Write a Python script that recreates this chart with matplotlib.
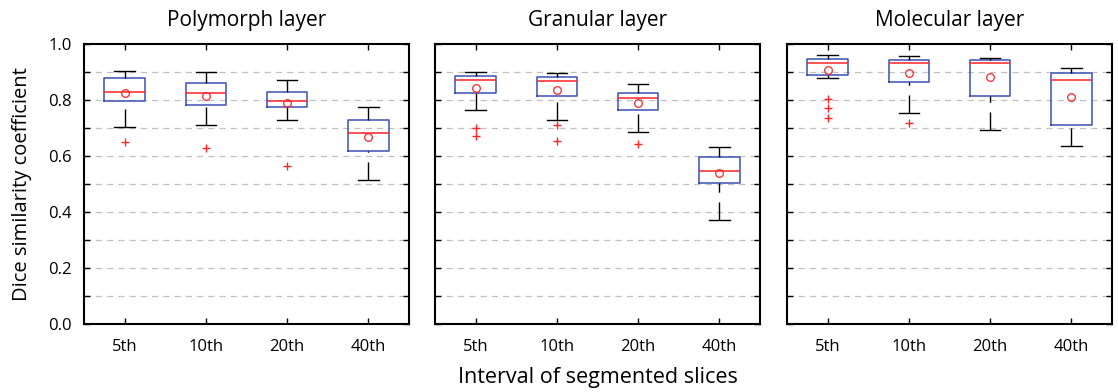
import numpy as np
import matplotlib.pyplot as plt

plt.rcParams['font.family'] = ['Open Sans', 'DejaVu Sans']

layers = ['Polymorph layer', 'Granular layer', 'Molecular layer']
intervals = ['5th', '10th', '20th', '40th']

# per layer: lists over intervals
whislo = [[0.705, 0.712, 0.729, 0.514],
          [0.763, 0.727, 0.684, 0.370],
          [0.879, 0.752, 0.692, 0.637]]
q1 = [[0.796, 0.782, 0.774, 0.617],
      [0.824, 0.813, 0.763, 0.505],
      [0.889, 0.863, 0.813, 0.711]]
med = [[0.830, 0.825, 0.798, 0.683],
       [0.871, 0.868, 0.808, 0.548],
       [0.932, 0.931, 0.931, 0.870]]
q3 = [[0.879, 0.862, 0.827, 0.727],
      [0.885, 0.881, 0.824, 0.598],
      [0.945, 0.942, 0.942, 0.895]]
whishi = [[0.905, 0.900, 0.873, 0.774],
          [0.899, 0.895, 0.856, 0.632],
          [0.961, 0.957, 0.951, 0.916]]
means = [[0.825, 0.815, 0.789, 0.668],
         [0.843, 0.836, 0.789, 0.539],
         [0.906, 0.896, 0.882, 0.812]]
outliers = [[[0.650], [0.627], [0.563], []],
            [[0.700, 0.672], [0.710, 0.654], [0.644], []],
            [[0.802, 0.771, 0.736], [0.718], [], []]]

box_blue = '#3a50b4'
red = '#ff2525'

fig = plt.figure(figsize=(11.18, 3.92), dpi=100)
lefts = [84, 435, 787]
width = 325
for k in range(3):
    ax = fig.add_axes([lefts[k] / 1118, (392 - 324) / 392, width / 1118, 280 / 392])
    stats = []
    for i in range(4):
        stats.append(dict(whislo=whislo[k][i], q1=q1[k][i], med=med[k][i], q3=q3[k][i],
                          whishi=whishi[k][i], mean=means[k][i], fliers=outliers[k][i]))
    parts = ax.bxp(stats, positions=[1, 2, 3, 4], widths=0.5, showmeans=True,
                   boxprops=dict(color=box_blue, linewidth=1.1),
                   medianprops=dict(color=red, linewidth=1.1),
                   whiskerprops=dict(color='black', linewidth=1.0, linestyle=(0, (13, 7))),
                   capprops=dict(color='black', linewidth=1.0),
                   meanprops=dict(marker='o', markerfacecolor='none', markeredgecolor=red,
                                  markersize=5.5, markeredgewidth=0.9),
                   flierprops=dict(marker='+', markeredgecolor=red, markersize=6,
                                   markeredgewidth=1.0))
    # dashes start at the cap, like the original
    for w in parts['whiskers']:
        w.set_data(w.get_xdata()[::-1], w.get_ydata()[::-1])
    ax.set_xlim(0.5, 4.5)
    ax.set_ylim(0, 1)
    ax.set_xticks([1, 2, 3, 4])
    ax.set_xticklabels(intervals)
    ax.set_yticks(np.arange(0, 1.01, 0.2))
    ax.set_yticks(np.arange(0.1, 1.0, 0.2), minor=True)
    ax.tick_params(axis='both', which='both', direction='in', top=True, right=True,
                   length=4, width=1.0, labelsize=12, pad=9)
    ax.tick_params(axis='x', pad=11)
    if k == 0:
        ax.set_yticklabels(['0.0', '0.2', '0.4', '0.6', '0.8', '1.0'])
        ax.set_ylabel('Dice similarity coefficient', fontsize=14.5)
        ax.yaxis.set_label_coords(-0.16, 0.5)
    else:
        ax.set_yticklabels([])
    for y in np.arange(0.1, 1.0, 0.1):
        ax.axhline(y, color='#c0c0c0', linestyle=(0, (5, 4)), linewidth=0.9, zorder=0)
    for s in ax.spines.values():
        s.set_linewidth(1.5)
    ax.set_title(layers[k], fontsize=15, pad=13)

fig.text(598 / 1118, 1 - 378 / 392, 'Interval of segmented slices', ha='center', va='center',
         fontsize=15.5)

fig.savefig('out.png', dpi=100)
